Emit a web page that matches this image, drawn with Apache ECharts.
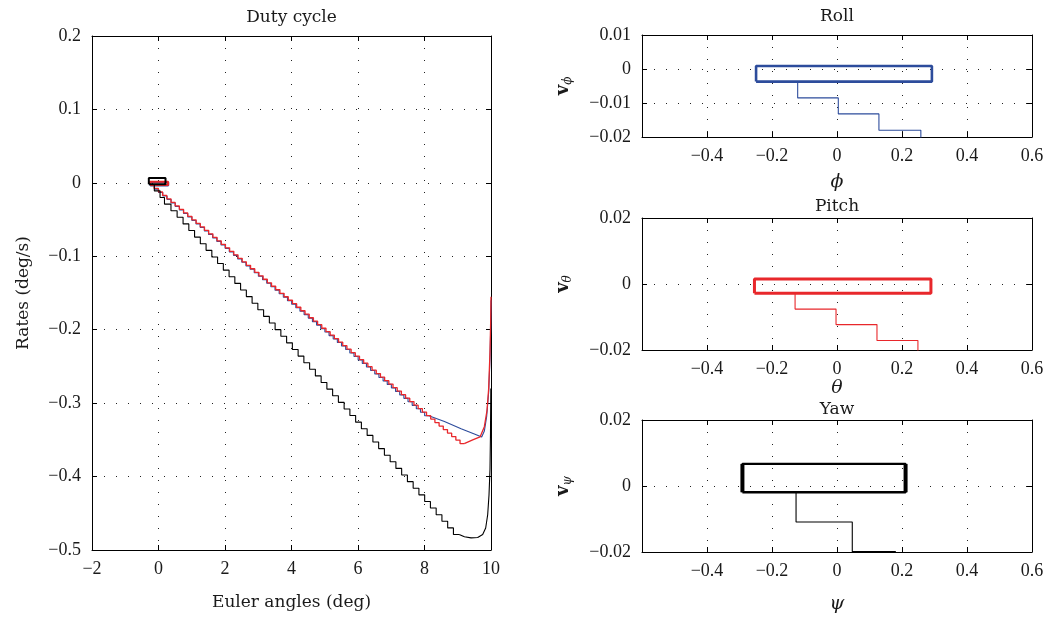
<!DOCTYPE html>
<html><head><meta charset="utf-8">
<script src="https://cdn.jsdelivr.net/npm/echarts/dist/echarts.min.js"></script>
<style>html,body{margin:0;padding:0;background:#fff}#c{width:1052px;height:619px}</style>
</head><body><div id="c"></div>
<script>
// ---------- text ----------
const titles = ['Duty cycle', 'Roll', 'Pitch', 'Yaw'];
const xNames = ['Euler angles (deg)', '\u03d5', '\u03b8', '\u03c8'];
const yNames = ['Rates (deg/s)', '\u03d5', '\u03b8', '\u03c8'];

// ---------- limit-cycle boxes (angle deg, rate deg/s) ----------
const rollBoxX = [-0.249, 0.292];  const rollBoxY = [-0.0037, 0.0009];
const pitchBoxX = [-0.254, 0.289]; const pitchBoxY = [-0.0028, 0.0015];
const yawBoxX = [-0.291, 0.211];   const yawBoxY = [-0.0019, 0.0067];

// ---------- staircase corner points (roll, blue) ----------
const rollSteps = [
[-0.121,-0.0037],[0.004,-0.0085],[0.129,-0.0132],[0.258,-0.0180],[0.379,-0.0227],[0.504,-0.0275],
[0.629,-0.0322],[0.754,-0.0370],[0.879,-0.0417],[1.004,-0.0465],[1.129,-0.0512],[1.254,-0.0560],
[1.379,-0.0607],[1.504,-0.0655],[1.629,-0.0702],[1.754,-0.0750],[1.879,-0.0797],[2.004,-0.0845],
[2.129,-0.0892],[2.254,-0.0940],[2.379,-0.0987],[2.504,-0.1035],[2.629,-0.1082],[2.754,-0.1130],
[2.879,-0.1177],[3.004,-0.1225],[3.129,-0.1272],[3.254,-0.1320],[3.379,-0.1367],[3.504,-0.1415],
[3.629,-0.1462],[3.754,-0.1510],[3.879,-0.1557],[4.004,-0.1605],[4.129,-0.1652],[4.254,-0.1700],
[4.379,-0.1747],[4.504,-0.1795],[4.629,-0.1842],[4.754,-0.1890],[4.879,-0.1937],[5.004,-0.1985],
[5.129,-0.2032],[5.254,-0.2080],[5.379,-0.2127],[5.504,-0.2175],[5.629,-0.2222],[5.754,-0.2270],
[5.879,-0.2317],[6.004,-0.2365],[6.129,-0.2412],[6.254,-0.2460],[6.379,-0.2507],[6.504,-0.2555],
[6.629,-0.2602],[6.754,-0.2650],[6.879,-0.2697],[7.004,-0.2745],[7.129,-0.2792],[7.254,-0.2840],
[7.379,-0.2887],[7.504,-0.2935],[7.629,-0.2982],[7.754,-0.3030],[7.879,-0.3077],[8.004,-0.3125],
[8.129,-0.3172]];
const rollTail = [[8.129,-0.3172],[8.6,-0.325],[9.1,-0.335],[9.5,-0.342],[9.72,-0.346],[9.8,-0.338],
[9.87,-0.318],[9.93,-0.285],[9.97,-0.24],[9.99,-0.2],[10.0,-0.16]];

// ---------- staircase corner points (pitch, red) ----------
const pitchSteps = [
[-0.129,-0.0028],[-0.003,-0.0076],[0.123,-0.0123],[0.249,-0.0171],[0.375,-0.0218],[0.501,-0.0266],
[0.627,-0.0314],[0.753,-0.0361],[0.879,-0.0409],[1.005,-0.0456],[1.131,-0.0504],[1.257,-0.0552],
[1.383,-0.0599],[1.509,-0.0647],[1.635,-0.0694],[1.761,-0.0742],[1.887,-0.0790],[2.013,-0.0837],
[2.139,-0.0885],[2.265,-0.0932],[2.391,-0.0980],[2.517,-0.1028],[2.643,-0.1075],[2.769,-0.1123],
[2.895,-0.1170],[3.021,-0.1218],[3.147,-0.1266],[3.273,-0.1313],[3.399,-0.1361],[3.525,-0.1408],
[3.651,-0.1456],[3.777,-0.1504],[3.903,-0.1551],[4.029,-0.1599],[4.155,-0.1646],[4.281,-0.1694],
[4.407,-0.1742],[4.533,-0.1789],[4.659,-0.1837],[4.785,-0.1884],[4.911,-0.1932],[5.037,-0.1980],
[5.163,-0.2027],[5.289,-0.2075],[5.415,-0.2122],[5.541,-0.2170],[5.667,-0.2218],[5.793,-0.2265],
[5.919,-0.2313],[6.045,-0.2360],[6.171,-0.2408],[6.297,-0.2456],[6.423,-0.2503],[6.549,-0.2551],
[6.675,-0.2598],[6.801,-0.2646],[6.927,-0.2694],[7.053,-0.2741],[7.179,-0.2789],[7.305,-0.2836],
[7.431,-0.2884],[7.557,-0.2932],[7.683,-0.2979],[7.809,-0.3027],[7.935,-0.3074],[8.061,-0.3122],
[8.187,-0.3170],[8.313,-0.3217],[8.439,-0.3265],[8.565,-0.3312],[8.691,-0.3360],[8.817,-0.3408],
[8.943,-0.3455],[9.069,-0.3503],[9.195,-0.3550]];
const pitchTail = [[9.195,-0.355],[9.45,-0.350],[9.67,-0.346],[9.8,-0.332],[9.88,-0.31],[9.93,-0.28],
[9.97,-0.23],[9.99,-0.19],[10.0,-0.155]];

// ---------- staircase corner points (yaw, black) ----------
const yawSteps = [
[-0.126,-0.0019],[0.047,-0.0109],[0.180,-0.0199],[0.375,-0.0289],[0.560,-0.0379],[0.739,-0.0469],
[0.912,-0.0559],[1.085,-0.0649],[1.258,-0.0739],[1.431,-0.0829],[1.604,-0.0919],[1.777,-0.1009],
[1.950,-0.1099],[2.123,-0.1189],[2.296,-0.1279],[2.469,-0.1369],[2.642,-0.1459],[2.815,-0.1549],
[2.988,-0.1639],[3.161,-0.1729],[3.334,-0.1819],[3.507,-0.1909],[3.680,-0.1999],[3.853,-0.2089],
[4.026,-0.2179],[4.199,-0.2269],[4.372,-0.2359],[4.545,-0.2449],[4.718,-0.2539],[4.891,-0.2629],
[5.064,-0.2719],[5.237,-0.2809],[5.410,-0.2899],[5.583,-0.2989],[5.756,-0.3079],[5.929,-0.3169],
[6.102,-0.3259],[6.275,-0.3349],[6.448,-0.3439],[6.621,-0.3529],[6.794,-0.3619],[6.967,-0.3709],
[7.140,-0.3799],[7.313,-0.3889],[7.486,-0.3979],[7.659,-0.4069],[7.832,-0.4159],[8.005,-0.4249],
[8.178,-0.4339],[8.351,-0.4429],[8.524,-0.4519],[8.697,-0.4609],[8.870,-0.4699],[9.043,-0.4789]];
const yawTail = [[9.043,-0.4789],[9.2,-0.482],[9.4,-0.4835],[9.6,-0.483],[9.75,-0.479],[9.84,-0.47],
[9.9,-0.452],[9.94,-0.425],[9.97,-0.39],[9.985,-0.34],[9.995,-0.28]];

// ---------- axis ranges ----------
const mainX = {min: -2, max: 10, interval: 2};
const mainY = {min: -0.5, max: 0.2, interval: 0.1};
const subX = {min: -0.6, max: 0.6, interval: 0.2};
const rollY = {min: -0.02, max: 0.01, interval: 0.01};
const pitchY = {min: -0.02, max: 0.02, interval: 0.02};
const yawY = {min: -0.02, max: 0.02, interval: 0.02};

// ---------- styling / layout ----------
const NUMFONT = 'Liberation Serif';
const WORDFONT = 'DejaVu Serif';
const TXT = '#1a1a1a';
const BLUE = '#2d4c9c', RED = '#e8272b', BLACK = '#000000';
const grids = [
  {left: 92, top: 36, width: 399, height: 514},
  {left: 642, top: 35, width: 390, height: 102},
  {left: 642, top: 218, width: 390, height: 132},
  {left: 642, top: 420, width: 390, height: 132}
];
const xNameGaps = [44, 36, 24, 43];
const yNameGaps = [60, 68, 68, 68];

function fmt(v) { const a = Math.abs(+(+v).toFixed(4)); return (v < -1e-9 ? '\u2212' : '') + String(a); }
function box(bx, by) { return [[bx[0], by[0]], [bx[1], by[0]], [bx[1], by[1]], [bx[0], by[1]], [bx[0], by[0]]]; }
function side(bx, by, i) { return [[bx[i], by[0]], [bx[i], by[1]]]; }

const axisLine = {show: true, onZero: false, lineStyle: {color: '#000', width: 1}};
const tick = {show: true, inside: true, length: 5, lineStyle: {color: '#000', width: 1}};
const split = {show: true, lineStyle: {type: [1, 11], color: '#222', width: 1}};
const lbl = {fontFamily: NUMFONT, fontSize: 18, color: TXT, formatter: fmt};

const xAxes = [], yAxes = [];
const xr = [mainX, subX, subX, subX], yr = [mainY, rollY, pitchY, yawY];
for (let g = 0; g < 4; g++) {
  xAxes.push(Object.assign({type: 'value', gridIndex: g, position: 'bottom', axisLine, axisTick: tick,
    splitLine: split, axisLabel: Object.assign({margin: 10, showMinLabel: g === 0}, lbl),
    name: xNames[g], nameLocation: 'middle', nameGap: xNameGaps[g],
    nameTextStyle: {fontFamily: WORDFONT, fontSize: g === 0 ? 17 : 19, color: TXT, fontStyle: g === 0 ? 'normal' : 'italic'}}, xr[g]));
  xAxes.push(Object.assign({type: 'value', gridIndex: g, position: 'top', axisLine, axisTick: tick,
    splitLine: {show: false}, axisLabel: {show: false}}, xr[g]));
  const yName = g === 0 ? yNames[0] : '{v|v}{s|' + yNames[g] + '}';
  yAxes.push(Object.assign({type: 'value', gridIndex: g, position: 'left', axisLine, axisTick: tick,
    splitLine: split, axisLabel: Object.assign({margin: 11}, lbl),
    name: yName, nameLocation: 'middle', nameGap: yNameGaps[g], nameRotate: 90,
    nameTextStyle: {fontFamily: WORDFONT, fontSize: 17, color: TXT,
      rich: {v: {fontFamily: WORDFONT, fontSize: 18, fontWeight: 'bold', color: TXT},
             s: {fontFamily: WORDFONT, fontSize: 12, fontStyle: 'italic', color: TXT, padding: [9, 0, 0, 0]}}}}, yr[g]));
  yAxes.push(Object.assign({type: 'value', gridIndex: g, position: 'right', axisLine, axisTick: tick,
    splitLine: {show: false}, axisLabel: {show: false}}, yr[g]));
}

function line(g, data, color, width, step) {
  return {type: 'line', xAxisIndex: g * 2, yAxisIndex: g * 2, data, step: step ? 'start' : false,
    symbol: 'none', showSymbol: false, clip: true, silent: true, animation: false,
    lineStyle: {color, width}, z: 3};
}

const series = [
  // main plot
  line(0, box(rollBoxX, rollBoxY), BLUE, 2), line(0, rollSteps, BLUE, 1.1, true), line(0, rollTail, BLUE, 1.1),
  line(0, box(pitchBoxX, pitchBoxY), RED, 2), line(0, pitchSteps, RED, 1.3, true), line(0, pitchTail, RED, 1.3),
  line(0, yawSteps, BLACK, 1.1, true), line(0, yawTail, BLACK, 1.1), line(0, box(yawBoxX, yawBoxY), BLACK, 2),
  // roll
  line(1, rollSteps, BLUE, 1.1, true), line(1, box(rollBoxX, rollBoxY), BLUE, 2.6),
  // pitch
  line(2, pitchSteps, RED, 1.1, true), line(2, box(pitchBoxX, pitchBoxY), RED, 3),
  // yaw
  line(3, yawSteps, BLACK, 1.1, true), line(3, box(yawBoxX, yawBoxY), BLACK, 2.4),
  line(3, side(yawBoxX, yawBoxY, 0), BLACK, 4), line(3, side(yawBoxX, yawBoxY, 1), BLACK, 4)
];

const titleCenters = [[291.5, 9], [837, 8], [837, 198], [837, 401]];
const chart = echarts.init(document.getElementById('c'), null, {renderer: 'canvas'});
chart.setOption({
  animation: false,
  backgroundColor: '#fff',
  title: titles.map((t, i) => ({text: t, left: titleCenters[i][0], top: titleCenters[i][1], textAlign: 'center', padding: 0,
    textStyle: {fontFamily: WORDFONT, fontSize: 17, fontWeight: 'normal', color: TXT}})),
  grid: grids,
  xAxis: xAxes,
  yAxis: yAxes,
  series
});
</script></body></html>
